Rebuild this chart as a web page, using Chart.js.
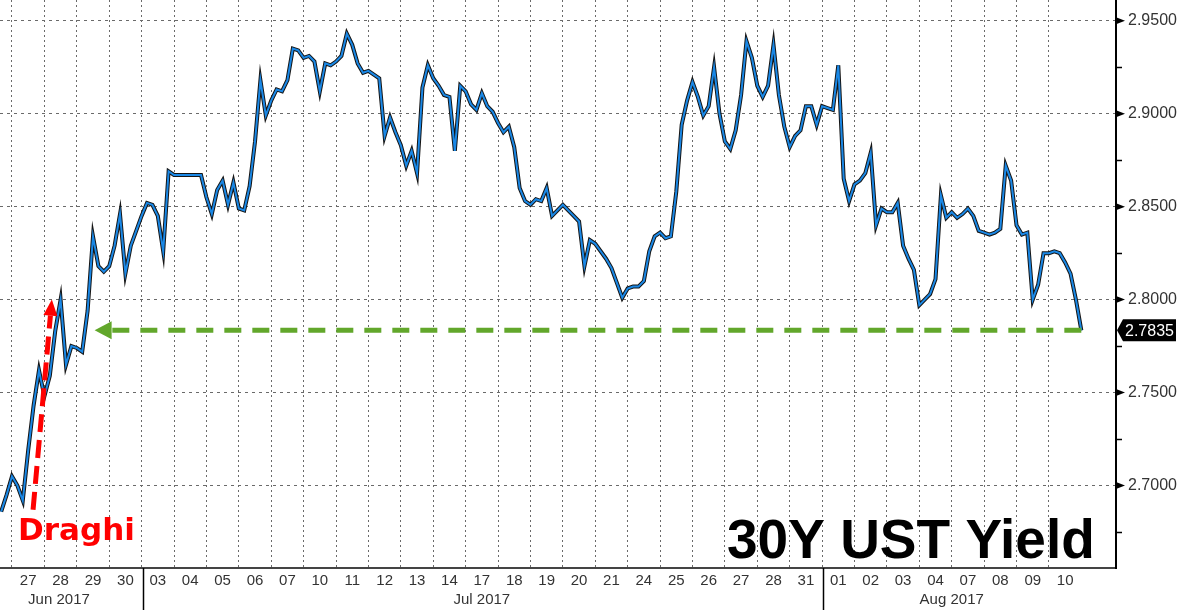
<!DOCTYPE html>
<html>
<head>
<meta charset="utf-8">
<script src="https://cdn.jsdelivr.net/npm/chart.js@4.4.0/dist/chart.umd.min.js"></script>
<style>
  html, body { margin: 0; padding: 0; background: #fff; }
  #wrap { width: 1182px; height: 614px; position: relative; }
</style>
</head>
<body>
<div id="wrap"><canvas id="yieldChart"></canvas></div>
<script>
// trading days shown on the axis (one slot each)
const dayLabels = ['27', '28', '29', '30', '03', '04', '05', '06', '07', '10', '11', '12', '13', '14', '17',
    '18', '19', '20', '21', '24', '25', '26', '27', '28', '31', '01', '02', '03', '04', '07', '08', '09', '10'];
const monthLabels = ['Jun 2017', 'Jul 2017', 'Aug 2017'];
const monthStarts = [0, 4, 25];        // day slot where each month begins
const monthLabelAt = [1.45, 14.5, 29]; // day slot under which the month name sits
const yTicks = [2.70, 2.75, 2.80, 2.85, 2.90, 2.95];
const yMinor = [2.675, 2.725, 2.775, 2.825, 2.875, 2.925];

// 30Y yield, 6 readings per trading day, first two are the tail of Jun 26
const samplesPerDay = 6;
const yields = [
    2.686, 2.695,
    2.705, 2.700, 2.692, 2.719, 2.743, 2.762,   // Jun 27
    2.748, 2.759, 2.783, 2.800, 2.765, 2.775,   // Jun 28
    2.774, 2.772, 2.794, 2.834, 2.818, 2.815,   // Jun 29
    2.818, 2.829, 2.846, 2.814, 2.829, 2.837,   // Jun 30
    2.845, 2.852, 2.851, 2.845, 2.826, 2.869,   // Jul 03
    2.867, 2.867, 2.867, 2.867, 2.867, 2.867,   // Jul 04
    2.855, 2.846, 2.859, 2.864, 2.851, 2.863,   // Jul 05
    2.849, 2.848, 2.861, 2.885, 2.918, 2.899,   // Jul 06
    2.907, 2.913, 2.912, 2.918, 2.935, 2.934,   // Jul 07
    2.930, 2.931, 2.928, 2.912, 2.927, 2.926,   // Jul 10
    2.928, 2.931, 2.943, 2.937, 2.927, 2.922,   // Jul 11
    2.923, 2.921, 2.919, 2.888, 2.898, 2.890,   // Jul 12
    2.883, 2.872, 2.880, 2.868, 2.914, 2.926,   // Jul 13
    2.919, 2.915, 2.910, 2.909, 2.880, 2.915,   // Jul 14
    2.912, 2.905, 2.902, 2.911, 2.904, 2.901,   // Jul 17
    2.895, 2.890, 2.893, 2.882, 2.860, 2.853,   // Jul 18
    2.851, 2.854, 2.853, 2.860, 2.845, 2.848,   // Jul 19
    2.851, 2.848, 2.845, 2.842, 2.818, 2.832,   // Jul 20
    2.830, 2.826, 2.822, 2.817, 2.809, 2.801,   // Jul 21
    2.806, 2.807, 2.807, 2.810, 2.826, 2.834,   // Jul 24
    2.836, 2.833, 2.834, 2.858, 2.894, 2.907,   // Jul 25
    2.917, 2.909, 2.899, 2.904, 2.925, 2.900,   // Jul 26
    2.885, 2.881, 2.891, 2.910, 2.939, 2.930,   // Jul 27
    2.915, 2.909, 2.915, 2.937, 2.910, 2.893,   // Jul 28
    2.882, 2.888, 2.891, 2.904, 2.904, 2.894,   // Jul 31
    2.904, 2.903, 2.902, 2.926, 2.865, 2.853,   // Aug 01
    2.862, 2.864, 2.868, 2.879, 2.840, 2.849,   // Aug 02
    2.847, 2.847, 2.852, 2.829, 2.822, 2.816,   // Aug 03
    2.797, 2.800, 2.803, 2.811, 2.856, 2.844,   // Aug 04
    2.847, 2.844, 2.846, 2.849, 2.845, 2.837,   // Aug 07
    2.836, 2.835, 2.836, 2.838, 2.872, 2.864,   // Aug 08
    2.840, 2.835, 2.836, 2.800, 2.808, 2.825,   // Aug 09
    2.825, 2.826, 2.825, 2.820, 2.814, 2.800,   // Aug 10
    2.7835
];
const firstSlot = -2 / samplesPerDay;
const lastYield = yields[yields.length - 1];

// annotation anchors in (day slot, yield)
const draghiFrom = [0.65, 2.687];
const draghiTo = [1.23, 2.800];
const supportFrom = 2.55;

const points = yields.map((v, i) => ({ x: firstSlot + i / samplesPerDay, y: v }));

const xMin = -0.37, xMax = 34.07;
const font = 'Liberation Sans, Arial, sans-serif';

function noPad(s) {
    s.paddingLeft = 0; s.paddingRight = 0; s.paddingTop = 0; s.paddingBottom = 0;
}

function dashedArrow(ctx, x1, y1, x2, y2, color, dash, head, halfW) {
    // line from (x1,y1) to tip (x2,y2)
    const ang = Math.atan2(y2 - y1, x2 - x1);
    const bx = x2 - Math.cos(ang) * head, by = y2 - Math.sin(ang) * head;
    ctx.save();
    ctx.strokeStyle = color;
    ctx.lineWidth = 5;
    ctx.setLineDash(dash);
    ctx.beginPath();
    ctx.moveTo(x1, y1);
    ctx.lineTo(bx, by);
    ctx.stroke();
    ctx.setLineDash([]);
    ctx.fillStyle = color;
    ctx.beginPath();
    ctx.moveTo(x2, y2);
    ctx.lineTo(bx + Math.sin(ang) * halfW, by - Math.cos(ang) * halfW);
    ctx.lineTo(bx - Math.sin(ang) * halfW, by + Math.cos(ang) * halfW);
    ctx.closePath();
    ctx.fill();
    ctx.restore();
}

const decor = {
    id: 'decor',
    afterDatasetsDraw(chart) {
        const { ctx, chartArea: a, scales: { x, y } } = chart;
        const H = chart.height;

        // axis lines
        ctx.save();
        ctx.strokeStyle = '#444';
        ctx.lineWidth = 2;
        ctx.beginPath();
        ctx.moveTo(0, a.bottom);
        ctx.lineTo(a.right, a.bottom);
        ctx.stroke();
        ctx.strokeStyle = '#000';
        ctx.beginPath();
        ctx.moveTo(a.right, 0);
        ctx.lineTo(a.right, a.bottom + 1);
        ctx.stroke();

        // month separators under the axis
        ctx.lineWidth = 1.5;
        monthStarts.slice(1).forEach(d => {
            const px = Math.round(x.getPixelForValue(d)) + 1.5;
            ctx.beginPath();
            ctx.moveTo(px, a.bottom);
            ctx.lineTo(px, H - 4);
            ctx.stroke();
        });

        // tick marks on the yield axis
        ctx.fillStyle = '#000';
        yTicks.forEach(v => {
            const py = y.getPixelForValue(v);
            ctx.beginPath();
            ctx.moveTo(a.right, py - 3.5);
            ctx.lineTo(a.right + 9, py);
            ctx.lineTo(a.right, py + 3.5);
            ctx.closePath();
            ctx.fill();
        });
        ctx.lineWidth = 1.5;
        yMinor.forEach(v => {
            const py = Math.round(y.getPixelForValue(v)) + 0.5;
            ctx.beginPath();
            ctx.moveTo(a.right, py);
            ctx.lineTo(a.right + 6, py);
            ctx.stroke();
        });
        ctx.restore();

        // green support line back to the post-Draghi level
        dashedArrow(ctx, x.getPixelForValue(firstSlot + (yields.length - 1) / samplesPerDay), y.getPixelForValue(lastYield),
            x.getPixelForValue(supportFrom), y.getPixelForValue(lastYield), '#62a72b', [17, 11], 17, 9);

        // red Draghi arrow
        dashedArrow(ctx, x.getPixelForValue(draghiFrom[0]), y.getPixelForValue(draghiFrom[1]),
            x.getPixelForValue(draghiTo[0]), y.getPixelForValue(draghiTo[1]), '#ff0000', [18, 8], 16, 7);

        // last price tag
        const ty = y.getPixelForValue(lastYield);
        ctx.save();
        ctx.fillStyle = '#000';
        ctx.beginPath();
        ctx.moveTo(a.right + 1, ty);
        ctx.lineTo(a.right + 7, ty - 11);
        ctx.lineTo(a.right + 60, ty - 11);
        ctx.lineTo(a.right + 60, ty + 11);
        ctx.lineTo(a.right + 7, ty + 11);
        ctx.closePath();
        ctx.fill();
        ctx.fillStyle = '#fff';
        ctx.font = '16px ' + font;
        ctx.textBaseline = 'middle';
        ctx.fillText(lastYield.toFixed(4), a.right + 9, ty + 1);

        // captions
        ctx.fillStyle = '#ff0000';
        ctx.font = 'bold 31px DejaVu Sans, sans-serif';
        ctx.textBaseline = 'alphabetic';
        ctx.fillText('Draghi', a.left + 18, a.bottom - 28);
        ctx.fillStyle = '#000';
        ctx.font = 'bold 55px ' + font;
        ctx.fillText('30Y UST Yield', a.left + 727, a.bottom - 10);
        ctx.restore();
    }
};

new Chart(document.getElementById('yieldChart'), {
    type: 'line',
    data: {
        datasets: [{
            data: points,
            borderColor: '#1a88e6',
            borderWidth: 2,
            pointRadius: 0,
            tension: 0,
            order: 0
        }, {
            data: points,
            borderColor: '#151515',
            borderWidth: 4,
            pointRadius: 0,
            tension: 0,
            order: 1
        }]
    },
    options: {
        responsive: true,
        maintainAspectRatio: false,
        animation: false,
        events: [],
        layout: { padding: 0 },
        plugins: { legend: { display: false }, tooltip: { enabled: false } },
        scales: {
            x: {
                type: 'linear', position: 'bottom', min: xMin, max: xMax, weight: 0,
                afterBuildTicks: s => { s.ticks = dayLabels.map((_, i) => ({ value: i })); },
                ticks: { display: false },
                grid: { color: '#6a6a6a', lineWidth: 1, drawTicks: false },
                border: { display: false, dash: [2, 3] },
                afterFit: s => { s.height = 0; noPad(s); }
            },
            xDays: {
                type: 'linear', position: 'bottom', min: xMin, max: xMax, weight: 1,
                afterBuildTicks: s => { s.ticks = dayLabels.map((_, i) => ({ value: i + 0.5 })); },
                ticks: {
                    autoSkip: false, maxRotation: 0, padding: 4, color: '#333',
                    font: { family: font, size: 15 },
                    callback: (v, i) => dayLabels[i]
                },
                grid: { display: false, drawTicks: false },
                border: { display: false },
                afterFit: s => { s.height = 22; noPad(s); }
            },
            xMonths: {
                type: 'linear', position: 'bottom', min: xMin, max: xMax, weight: 2,
                afterBuildTicks: s => { s.ticks = monthLabelAt.map(v => ({ value: v })); },
                ticks: {
                    autoSkip: false, maxRotation: 0, padding: 1, color: '#333',
                    font: { family: font, size: 15 },
                    callback: (v, i) => monthLabels[i]
                },
                grid: { display: false, drawTicks: false },
                border: { display: false },
                afterFit: s => { s.height = 24; noPad(s); }
            },
            y: {
                type: 'linear', position: 'right', min: 2.6557, max: 2.9611,
                afterBuildTicks: s => { s.ticks = yTicks.map(v => ({ value: v })); },
                ticks: {
                    padding: 12, color: '#333',
                    font: { family: font, size: 16 },
                    callback: v => v.toFixed(4)
                },
                grid: { color: '#6a6a6a', lineWidth: 1, drawTicks: false },
                border: { display: false, dash: [3, 4] },
                afterFit: s => { s.width = 66; noPad(s); }
            }
        }
    },
    plugins: [decor]
});
</script>
</body>
</html>
